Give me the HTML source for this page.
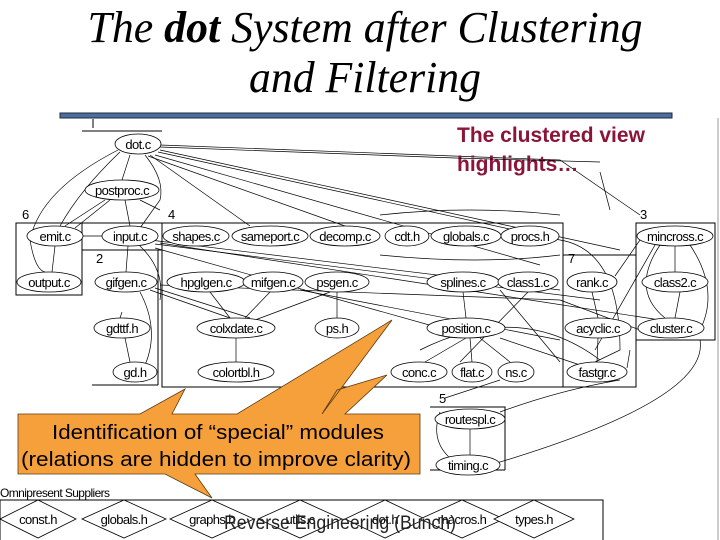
<!DOCTYPE html>
<html><head><meta charset="utf-8"><style>
html,body{margin:0;padding:0;background:#fff;}
svg{display:block;}
.n{fill:#fff;stroke:#000;stroke-width:0.8;}
.t{font-family:"Liberation Sans",sans-serif;font-size:13px;text-anchor:middle;letter-spacing:-0.6px;}
.e{fill:none;stroke:#000;stroke-width:0.7;}
.b{fill:none;stroke:#000;stroke-width:1;}
</style></head><body>
<svg width="720" height="540" viewBox="0 0 720 540" xmlns="http://www.w3.org/2000/svg">
<text x="365" y="42" font-family="Liberation Serif,serif" font-style="italic" font-size="44" text-anchor="middle" textLength="555" lengthAdjust="spacingAndGlyphs">The <tspan font-weight="bold">dot</tspan> System after Clustering</text>
<text x="365" y="92" font-family="Liberation Serif,serif" font-style="italic" font-size="44" text-anchor="middle" textLength="232" lengthAdjust="spacingAndGlyphs">and Filtering</text>
<rect x="60" y="113" width="612" height="5" fill="#4d6d9c" stroke="#1a2a40" stroke-width="1"/>
<line x1="718" y1="118" x2="718" y2="540" stroke="#999" stroke-width="1"/>
<line x1="93" y1="119" x2="93" y2="128" class="b"/>
<line x1="82" y1="131" x2="162" y2="131" class="b"/>

<!-- edges -->
<g class="e">
<path d="M160 145 L560 160 L640 215"/>
<path d="M160 147 L455 158"/>
<path d="M160 150 L620 250"/>
<path d="M158 152 L560 240"/>
<path d="M155 155 L540 265"/>
<path d="M150 155 L250 226"/>
<path d="M148 156 L345 226"/>
<path d="M130 155 L122 180"/>
<path d="M145 155 Q165 180 160 200 L140 228"/>
<path d="M120 152 Q80 190 60 226"/>
<path d="M118 150 Q40 190 30 240 Q35 270 45 272"/>
<path d="M105 200 L65 226"/>
<path d="M110 200 L75 228"/>
<path d="M125 200 L130 226"/>
<path d="M140 200 L160 210"/>
<path d="M83 236 L102 236"/>
<path d="M55 246 L52 272"/>
<path d="M128 246 L126 272"/>
<path d="M140 246 Q165 270 160 300"/>
<path d="M150 240 L560 290"/>
<path d="M155 244 L600 300"/>
<path d="M155 248 L440 328"/>
<path d="M160 243 L660 320"/>
<path d="M140 292 Q160 330 145 365"/>
<path d="M120 318 L122 312"/>
<path d="M125 338 L130 362"/>
<path d="M150 290 L230 318"/>
<path d="M155 288 L250 318"/>
<path d="M160 285 L560 300"/>
<path d="M210 292 L230 318"/>
<path d="M270 292 L245 318"/>
<path d="M330 292 L255 320"/>
<path d="M337 292 L337 318"/>
<path d="M236 338 L236 362"/>
<path d="M380 215 Q470 205 560 215"/>
<path d="M380 255 Q480 265 560 255"/>
<path d="M560 240 Q620 250 620 350 L595 362"/>
<path d="M463 292 L466 318"/>
<path d="M528 292 L460 362"/>
<path d="M500 290 L560 362"/>
<path d="M466 338 L425 362"/>
<path d="M470 338 L472 362"/>
<path d="M480 338 L510 362"/>
<path d="M500 338 L580 365"/>
<path d="M420 350 Q520 300 600 360"/>
<path d="M640 240 L615 276"/>
<path d="M655 245 L595 350"/>
<path d="M675 246 L675 272"/>
<path d="M660 245 Q630 290 665 318"/>
<path d="M680 292 L675 318"/>
<path d="M690 245 Q720 290 700 330"/>
<path d="M592 292 L598 318"/>
<path d="M598 338 L597 362"/>
<path d="M560 300 L640 330"/>
<path d="M630 350 L627 368"/>
<path d="M700 340 Q710 400 490 465"/>
<path d="M620 380 Q560 390 500 412"/>
<path d="M445 398 L500 380"/>
<path d="M440 412 Q430 440 450 458"/>
<path d="M470 429 L470 455"/>
<path d="M600 172 L610 210"/>
<path d="M300 290 L560 340"/>
</g>

<!-- clusters -->
<g class="b">
<rect x="16" y="223" width="66" height="72"/>
<rect x="162" y="223" width="401" height="164"/>
<rect x="563" y="255" width="73" height="132"/>
<rect x="636" y="223" width="79" height="117"/>
<path d="M82 250 L162 250"/>
<path d="M158 250 L158 385 M92 385 L158 385"/>
<path d="M82 223 L162 223"/>
<path d="M430 407 L505 407 L505 470 M430 470 L505 470"/>
<rect x="0" y="500" width="603" height="45"/>
</g>
<g font-family="Liberation Sans,sans-serif" font-size="13">
<text x="22" y="219">6</text><text x="168" y="219">4</text><text x="96" y="263">2</text>
<text x="568" y="263">7</text><text x="640" y="219">3</text><text x="439" y="403">5</text>
<text x="0" y="497" font-size="12" letter-spacing="-0.6">Omnipresent Suppliers</text>
</g>

<!-- nodes -->
<g>
<ellipse class="n" cx="138" cy="144" rx="23" ry="10"/><text class="t" x="138" y="149">dot.c</text>
<ellipse class="n" cx="122" cy="190" rx="37" ry="10"/><text class="t" x="122" y="195">postproc.c</text>
<ellipse class="n" cx="55" cy="236" rx="28" ry="10"/><text class="t" x="55" y="241">emit.c</text>
<ellipse class="n" cx="130" cy="236" rx="28" ry="10"/><text class="t" x="130" y="241">input.c</text>
<ellipse class="n" cx="196" cy="236" rx="33" ry="10"/><text class="t" x="196" y="241">shapes.c</text>
<ellipse class="n" cx="270" cy="236" rx="38" ry="10"/><text class="t" x="270" y="241">sameport.c</text>
<ellipse class="n" cx="345" cy="236" rx="35" ry="10"/><text class="t" x="345" y="241">decomp.c</text>
<ellipse class="n" cx="407" cy="236" rx="22" ry="10"/><text class="t" x="407" y="241">cdt.h</text>
<ellipse class="n" cx="466" cy="236" rx="35" ry="10"/><text class="t" x="466" y="241">globals.c</text>
<ellipse class="n" cx="530" cy="236" rx="29" ry="10"/><text class="t" x="530" y="241">procs.h</text>
<ellipse class="n" cx="675" cy="236" rx="38" ry="10"/><text class="t" x="675" y="241">mincross.c</text>
<ellipse class="n" cx="49" cy="282" rx="32" ry="10"/><text class="t" x="49" y="287">output.c</text>
<ellipse class="n" cx="126" cy="282" rx="31" ry="10"/><text class="t" x="126" y="287">gifgen.c</text>
<ellipse class="n" cx="206" cy="282" rx="39" ry="10"/><text class="t" x="206" y="287">hpglgen.c</text>
<ellipse class="n" cx="273" cy="282" rx="30" ry="10"/><text class="t" x="273" y="287">mifgen.c</text>
<ellipse class="n" cx="337" cy="282" rx="32" ry="10"/><text class="t" x="337" y="287">psgen.c</text>
<ellipse class="n" cx="463" cy="282" rx="36" ry="10"/><text class="t" x="463" y="287">splines.c</text>
<ellipse class="n" cx="528" cy="282" rx="30" ry="10"/><text class="t" x="528" y="287">class1.c</text>
<ellipse class="n" cx="592" cy="282" rx="25" ry="10"/><text class="t" x="592" y="287">rank.c</text>
<ellipse class="n" cx="675" cy="282" rx="33" ry="10"/><text class="t" x="675" y="287">class2.c</text>
<ellipse class="n" cx="122" cy="328" rx="28" ry="10"/><text class="t" x="122" y="333">gdttf.h</text>
<ellipse class="n" cx="236" cy="328" rx="39" ry="10"/><text class="t" x="236" y="333">colxdate.c</text>
<ellipse class="n" cx="337" cy="328" rx="22" ry="10"/><text class="t" x="337" y="333">ps.h</text>
<ellipse class="n" cx="466" cy="328" rx="39" ry="10"/><text class="t" x="466" y="333">position.c</text>
<ellipse class="n" cx="598" cy="328" rx="33" ry="10"/><text class="t" x="598" y="333">acyclic.c</text>
<ellipse class="n" cx="671" cy="328" rx="33" ry="10"/><text class="t" x="671" y="333">cluster.c</text>
<ellipse class="n" cx="135" cy="372" rx="22" ry="10"/><text class="t" x="135" y="377">gd.h</text>
<ellipse class="n" cx="236" cy="372" rx="38" ry="10"/><text class="t" x="236" y="377">colortbl.h</text>
<ellipse class="n" cx="419" cy="372" rx="28" ry="10"/><text class="t" x="419" y="377">conc.c</text>
<ellipse class="n" cx="472" cy="372" rx="20" ry="10"/><text class="t" x="472" y="377">flat.c</text>
<ellipse class="n" cx="516" cy="372" rx="18" ry="10"/><text class="t" x="516" y="377">ns.c</text>
<ellipse class="n" cx="597" cy="372" rx="30" ry="10"/><text class="t" x="597" y="377">fastgr.c</text>
<ellipse class="n" cx="470" cy="419" rx="35" ry="10"/><text class="t" x="470" y="424">routespl.c</text>
<ellipse class="n" cx="468" cy="465" rx="32" ry="10"/><text class="t" x="468" y="470">timing.c</text>
</g>

<!-- suppliers diamonds -->
<g class="n">
<polygon points="0,519 38,500 76,519 38,538"/>
<polygon points="82,519 124,500 166,519 124,538"/>
<polygon points="170,519 212,500 254,519 212,538"/>
<polygon points="258,519 300,500 342,519 300,538"/>
<polygon points="345,519 385,500 425,519 385,538"/>
<polygon points="420,519 462,500 504,519 462,538"/>
<polygon points="494,519 534,500 574,519 534,538"/>
</g>
<g class="t" font-size="13">
<text x="38" y="524">const.h</text><text x="124" y="524">globals.h</text><text x="212" y="524">graphs.h</text>
<text x="300" y="524">utils.c</text><text x="385" y="524">dot.h</text><text x="462" y="524">macros.h</text><text x="534" y="524">types.h</text>
</g>

<!-- red text -->
<g font-family="Liberation Sans,sans-serif" font-weight="bold" font-size="21" fill="#8a1538">
<text x="457" y="142">The clustered view</text>
<text x="457" y="171">highlights…</text>
</g>
<line x1="455" y1="158" x2="600" y2="162" class="e"/>

<!-- callout -->
<polygon points="18,414 140,414 185,389 172,414 237,414 392,320 322,414 337,390 387,375 345,414 420,414 420,474 195,474 212,498 165,474 18,474" fill="#f6a03c" stroke="#5a3a10" stroke-width="0.8"/>
<g font-family="Liberation Sans,sans-serif" font-size="20" text-anchor="middle" fill="#000">
<text x="218" y="439" textLength="332" lengthAdjust="spacingAndGlyphs">Identification of “special” modules</text>
<text x="216" y="466" textLength="390" lengthAdjust="spacingAndGlyphs">(relations are hidden to improve clarity)</text>
</g>

<text x="340" y="529" font-family="Liberation Sans,sans-serif" font-size="19" text-anchor="middle" fill="#222" textLength="232" lengthAdjust="spacingAndGlyphs">Reverse Engineering (Bunch)</text>
</svg>
</body></html>
